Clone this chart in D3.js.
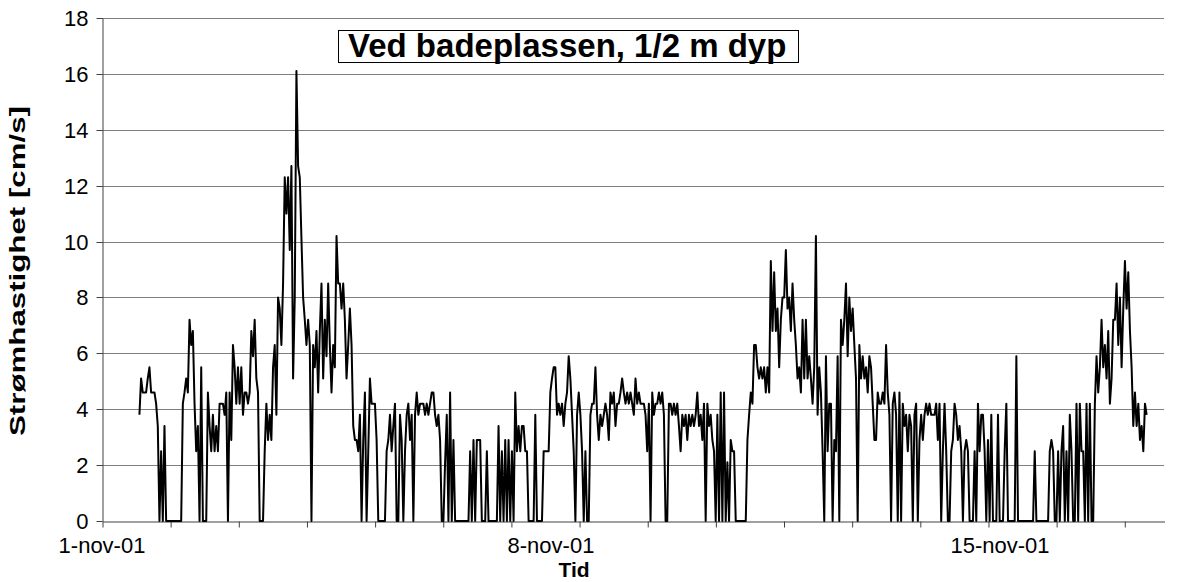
<!DOCTYPE html>
<html>
<head>
<meta charset="utf-8">
<script src="https://cdn.jsdelivr.net/npm/d3@7"></script>
<style>
body { margin: 0; background: #fff; }
text { font-family: "Liberation Sans", Arial, sans-serif; }
</style>
</head>
<body>
<svg id="chart" width="1178" height="582"></svg>
<script>
// chart texts
var title = "Ved badeplassen, 1/2 m dyp";
var yTitle = "Strømhastighet [cm/s]";
var xTitle = "Tid";

// axes
var yTicks = [0, 2, 4, 6, 8, 10, 12, 14, 16, 18];
var xLabelDates = [new Date(2001, 10, 1), new Date(2001, 10, 8), new Date(2001, 10, 15)];
var xLabelText = ["1-nov-01", "8-nov-01", "15-nov-01"];
var xStart = new Date(2001, 10, 1, 0, 0);
var xEnd = new Date(2001, 10, 17, 13, 22);
var tickHours = 25.5;

var startTime = new Date(2001, 10, 1, 14, 0);
var stepMinutes = 37.5;
var speed = [
  3.8,5.1,4.6,4.6,4.6,5.1,5.5,4.6,4.6,4.6,4.2,3.4,0,2.5,0,3.4,0,0,0,0,0,0,0,0,0,0,4.2,4.6,5.1,4.6,7.2,6.3,6.8,
  4.2,2.5,3.4,0,5.5,0,0,0,4.6,3.4, 2.5,3.8,2.5,3.4,2.5,4.2,4.2,4.2,3.8,4.6, 0,4.6,2.9,6.3,5.5,4.2,5.5,4.2,5.5,3.8,
  4.6,4.6,4.2,4.6,6.8,5.9,7.2,5.1,4.6,0, 0,0,2.5,4.2,2.9,3.8,2.9,5.5,6.3,3.8, 8.0,7.6,6.3,8.5,
  12.3,11.0,12.3,9.7,12.7,5.1,8.0,16.1,12.7,12.3, 10.1,8.0,7.2,6.3,7.2,6.3,0,6.3,5.5,6.8, 4.6,6.8,8.5,5.1,7.2,5.9,8.5,6.3,4.6,6.3,
  5.5,10.2,8.5,8.5,7.6,8.5,7.2,5.1,6.3,7.6, 6.3,3.4,2.9,2.9,2.5,3.8,0,2.9,4.6,0, 2.5,5.1,4.2,4.2,
  4.2,2.9,0,0,0,0,0,2.5,2.9,3.8, 2.5,3.4,4.2,0,0,3.8,2.9,0,2.5,3.8, 4.2,2.9,3.8,0,3.8,4.6,3.8,4.2,4.2,4.2,
  3.8,4.2,3.8,4.2,4.6,4.6,3.8,3.4,3.8,2.9, 0,0,2.1,3.8,0,4.6,0,2.9,0,0, 0,0,0,0,
  0,0,0,2.5,0,2.9,0,2.9,2.9,2.9, 0,0,0,2.5,0,0,0,0,0,0, 3.4,0,2.5,0,2.9,0,2.9,0,2.5,0,
  4.6,2.5,3.4,2.5,3.4,3.4,2.5,2.5,0,0, 0,0,3.8,0,0,0,0,2.5,2.5,2.5, 2.5,4.6,5.1,5.5,
  5.5,3.8,4.2,3.8,4.2,3.4,4.2,4.6,5.9,5.1, 3.8,2.5,0,3.8,4.6,3.8,2.5,0,2.5,0, 0,3.8,4.2,4.2,5.5,3.8,2.9,3.8,3.4,3.8,
  4.2,3.8,2.9,4.6,4.2,4.6,3.4,4.2,4.2,4.6, 5.1,4.6,4.2,4.6,4.2,4.6,4.2,3.8,5.1,4.2, 4.6,4.2,4.2,4.2,
  3.8,2.5,4.2,0,4.6,3.8,4.2,4.2,4.6,4.2, 4.6,3.8,0,0,4.2,4.2,3.8,4.2,3.8,4.2, 3.4,2.5,3.8,3.4,3.8,2.9,3.8,3.4,3.8,3.4,
  3.8,4.6,3.4,3.8,2.9,4.2,0,4.2,3.4,3.8, 2.9,2.5,0,3.8,0,4.6,0,4.6,0,2.1, 0,2.9,2.5,2.5,
  0,0,0,0,0,0,0,2.9,3.8,4.6, 4.2,6.3,6.3,5.5,5.1,5.5,5.1,5.5,4.6,5.5, 4.6,9.3,6.8,8.9,6.8,7.6,5.5,7.2,8.0,8.0,
  9.7,7.6,8.0,6.8,8.5,7.2,6.3,5.1,5.5,4.6, 7.2,5.1,7.2,5.1,5.9,5.1,4.2,5.5,10.2,3.8, 5.5,4.6,2.5,0,
  5.9,2.5,4.2,4.2,0,2.9,2.5,5.9,0,7.2, 6.3,7.2,8.5,5.9,8.0,6.8,7.6,6.3,5.1,0, 6.3,5.1,5.9,5.1,5.5,4.6,5.9,5.5,4.2,2.9,
  2.9,4.6,4.2,4.2,4.6,4.2,6.3,4.6,3.8,0, 4.2,4.6,3.8,0,4.6,0,4.2,3.4,3.8,2.5, 3.8,3.4,0,3.8,
  4.2,0,2.9,3.8,2.9,3.8,4.2,3.8,4.2,3.8, 3.8,3.8,4.2,2.9,4.2,0,2.5,4.2,2.5,0, 0,2.5,2.9,4.2,3.8,2.9,3.4,2.5,0,2.5,
  2.9,2.5,0,0,0,2.5,0,4.2,2.5,3.8, 3.8,2.5,0,2.9,0,3.8,0,0,0,3.8, 0,0,0,2.5,
  4.2,0,0,0,0,0,5.9,0,0,0, 0,0,0,0,0,0,0,2.5,0,0, 0,0,0,0,0,0,2.5,2.9,2.5,0,
  0,2.5,0,2.5,3.4,0,2.5,0,3.8,2.5, 0,0,4.2,0,4.2,2.5,2.5,0,4.2,0, 4.2,0,0,4.2,
  5.9,4.6,5.5,7.2,5.5,6.3,5.1,6.8,4.2,5.1, 7.2,7.2,8.5,6.3,8.0,5.5,7.6,9.3,7.6,8.9, 6.8,5.5,3.4,4.6,3.4,4.2,2.9,3.4,2.5,4.2, 3.8
];

var svg = d3.select("#chart");
var plotLeft = 102, plotRight = 1164, plotTop = 18, plotBottom = 521;

var x = d3.scaleTime().domain([xStart, xEnd]).range([plotLeft, plotRight]);
var y = d3.scaleLinear().domain([0, 18]).range([plotBottom, plotTop]);

function timeAt(i) {
  return new Date(startTime.getTime() + i * stepMinutes * 60000);
}

// horizontal gridlines
svg.append("g")
  .selectAll("line")
  .data(yTicks.filter(function(d) { return d > 0; }))
  .join("line")
  .attr("x1", plotLeft).attr("x2", plotRight)
  .attr("y1", function(d) { return Math.round(y(d)) + 0.5; })
  .attr("y2", function(d) { return Math.round(y(d)) + 0.5; })
  .attr("stroke", "#808080")
  .attr("stroke-width", 1);

// y axis
var yAxis = svg.append("g")
  .attr("transform", "translate(" + (plotLeft + 0.5) + ",0)")
  .call(d3.axisLeft(y).tickValues(yTicks).tickSize(6).tickSizeOuter(0).tickPadding(8));
yAxis.selectAll(".tick").attr("transform", function(d) {
  return "translate(0," + (Math.round(y(d)) + 0.5) + ")";
});
yAxis.selectAll("text").attr("font-size", 22).attr("fill", "#000")
  .style("font-family", "'Liberation Sans', Arial, sans-serif");
yAxis.selectAll("line, path").attr("stroke", "#404040");

// x axis ticks
var tickDates = d3.range(0, 17 * 24, tickHours)
  .map(function(h) { return new Date(xStart.getTime() + h * 3600000); })
  .filter(function(d) { return d <= xEnd; });
var xAxis = svg.append("g")
  .attr("transform", "translate(0.5," + (plotBottom + 0.5) + ")")
  .call(d3.axisBottom(x).tickValues(tickDates).tickFormat("").tickSize(6).tickSizeOuter(0));
xAxis.selectAll("line, path").attr("stroke", "#404040");

svg.append("g")
  .selectAll("text")
  .data(xLabelDates)
  .join("text")
  .attr("x", function(d) { return x(d); })
  .attr("y", 553)
  .attr("text-anchor", "middle")
  .attr("font-size", 22)
  .text(function(d, i) { return xLabelText[i]; });

// the series
var line = d3.line()
  .x(function(d, i) { return x(timeAt(i)); })
  .y(function(d) { return y(d); });

svg.append("path")
  .datum(speed)
  .attr("d", line)
  .attr("fill", "none")
  .attr("stroke", "#000")
  .attr("stroke-width", 2)
  .attr("stroke-linejoin", "round");

// title box
svg.append("rect")
  .attr("x", 338.5).attr("y", 30.5).attr("width", 460).attr("height", 32)
  .attr("fill", "#fff").attr("stroke", "#000").attr("stroke-width", 1);
svg.append("text")
  .attr("x", 348).attr("y", 56.5)
  .attr("font-size", 33).attr("font-weight", "bold")
  .text(title);

// axis titles
svg.append("text")
  .attr("transform", "translate(25,271) rotate(-90)")
  .attr("text-anchor", "middle")
  .attr("font-size", 22).attr("font-weight", "bold")
  .attr("textLength", 330).attr("lengthAdjust", "spacingAndGlyphs")
  .text(yTitle);
svg.append("text")
  .attr("x", 574).attr("y", 577)
  .attr("text-anchor", "middle")
  .attr("font-size", 21).attr("font-weight", "bold")
  .text(xTitle);
</script>
</body>
</html>
